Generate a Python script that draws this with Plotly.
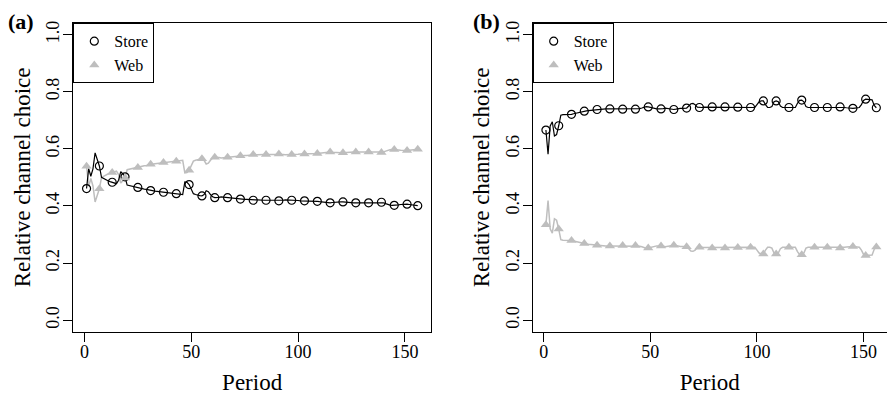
import plotly.graph_objects as go

periods = list(range(1, 157))

store_a = [
    0.461, 0.531, 0.504, 0.530, 0.586, 0.565, 0.540, 0.500, 0.495, 0.491,
    0.488, 0.485, 0.483, 0.482, 0.478, 0.490, 0.520, 0.512, 0.502, 0.473,
    0.471, 0.469, 0.468, 0.467, 0.465, 0.463, 0.461, 0.459, 0.458, 0.456,
    0.454, 0.453, 0.452, 0.451, 0.450, 0.449, 0.448, 0.447, 0.446, 0.445,
    0.445, 0.444, 0.443, 0.442, 0.441, 0.440, 0.484, 0.483, 0.475, 0.460,
    0.443, 0.440, 0.437, 0.436, 0.435, 0.440, 0.453, 0.450, 0.440, 0.432,
    0.429, 0.429, 0.430, 0.432, 0.431, 0.430, 0.429, 0.428, 0.427, 0.426,
    0.427, 0.425, 0.424, 0.424, 0.423, 0.423, 0.422, 0.421, 0.420, 0.421,
    0.421, 0.420, 0.420, 0.420, 0.420, 0.420, 0.419, 0.419, 0.419, 0.418,
    0.418, 0.419, 0.420, 0.421, 0.421, 0.420, 0.420, 0.420, 0.419, 0.419,
    0.418, 0.418, 0.418, 0.418, 0.417, 0.417, 0.416, 0.416, 0.416, 0.415,
    0.414, 0.414, 0.413, 0.412, 0.411, 0.412, 0.413, 0.414, 0.414, 0.414,
    0.414, 0.413, 0.412, 0.412, 0.411, 0.411, 0.411, 0.411, 0.411, 0.411,
    0.411, 0.411, 0.411, 0.412, 0.413, 0.413, 0.413, 0.413, 0.413, 0.411,
    0.408, 0.405, 0.403, 0.402, 0.402, 0.403, 0.404, 0.405, 0.406, 0.406,
    0.406, 0.405, 0.404, 0.403, 0.402, 0.401,
]

web_a = [
    0.539, 0.469, 0.496, 0.470, 0.414, 0.435, 0.460, 0.500, 0.505, 0.509,
    0.512, 0.515, 0.517, 0.518, 0.522, 0.510, 0.480, 0.488, 0.498, 0.527,
    0.529, 0.531, 0.532, 0.533, 0.535, 0.537, 0.539, 0.541, 0.542, 0.544,
    0.546, 0.547, 0.548, 0.549, 0.550, 0.551, 0.552, 0.553, 0.554, 0.555,
    0.555, 0.556, 0.557, 0.558, 0.559, 0.560, 0.516, 0.517, 0.525, 0.540,
    0.557, 0.560, 0.563, 0.564, 0.565, 0.560, 0.547, 0.550, 0.560, 0.568,
    0.571, 0.571, 0.570, 0.568, 0.569, 0.570, 0.571, 0.572, 0.573, 0.574,
    0.573, 0.575, 0.576, 0.576, 0.577, 0.577, 0.578, 0.579, 0.580, 0.579,
    0.579, 0.580, 0.580, 0.580, 0.580, 0.580, 0.581, 0.581, 0.581, 0.582,
    0.582, 0.581, 0.580, 0.579, 0.579, 0.580, 0.580, 0.580, 0.581, 0.581,
    0.582, 0.582, 0.582, 0.582, 0.583, 0.583, 0.584, 0.584, 0.584, 0.585,
    0.586, 0.586, 0.587, 0.588, 0.589, 0.588, 0.587, 0.586, 0.586, 0.586,
    0.586, 0.587, 0.588, 0.588, 0.589, 0.589, 0.589, 0.589, 0.589, 0.589,
    0.589, 0.589, 0.589, 0.588, 0.587, 0.587, 0.587, 0.587, 0.587, 0.589,
    0.592, 0.595, 0.597, 0.598, 0.598, 0.597, 0.596, 0.595, 0.594, 0.594,
    0.594, 0.595, 0.596, 0.597, 0.598, 0.599,
]

store_b = [
    0.666, 0.581, 0.680, 0.695, 0.645, 0.650, 0.681, 0.718, 0.720, 0.720,
    0.720, 0.720, 0.721, 0.723, 0.725, 0.727, 0.729, 0.731, 0.732, 0.733,
    0.734, 0.735, 0.736, 0.737, 0.738, 0.739, 0.739, 0.740, 0.740, 0.740,
    0.740, 0.740, 0.740, 0.739, 0.739, 0.739, 0.739, 0.739, 0.739, 0.739,
    0.739, 0.739, 0.739, 0.740, 0.741, 0.743, 0.746, 0.748, 0.747, 0.745,
    0.743, 0.741, 0.740, 0.740, 0.740, 0.741, 0.743, 0.742, 0.739, 0.738,
    0.738, 0.739, 0.741, 0.742, 0.742, 0.743, 0.743, 0.750, 0.758, 0.759,
    0.755, 0.746, 0.745, 0.745, 0.746, 0.746, 0.747, 0.747, 0.747, 0.747,
    0.747, 0.747, 0.747, 0.747, 0.747, 0.747, 0.747, 0.746, 0.746, 0.746,
    0.746, 0.746, 0.745, 0.745, 0.745, 0.745, 0.745, 0.745, 0.745, 0.755,
    0.765, 0.768, 0.768, 0.755, 0.745, 0.745, 0.748, 0.765, 0.768, 0.765,
    0.750, 0.745, 0.745, 0.745, 0.745, 0.745, 0.745, 0.745, 0.760, 0.770,
    0.771, 0.765, 0.748, 0.745, 0.745, 0.745, 0.745, 0.745, 0.745, 0.745,
    0.745, 0.745, 0.745, 0.745, 0.745, 0.745, 0.745, 0.745, 0.747, 0.746,
    0.745, 0.744, 0.743, 0.742, 0.742, 0.743, 0.744, 0.745, 0.755, 0.770,
    0.774, 0.774, 0.773, 0.772, 0.752, 0.744,
]

web_b = [
    0.334, 0.419, 0.320, 0.305, 0.355, 0.350, 0.319, 0.282, 0.280, 0.280,
    0.280, 0.280, 0.279, 0.277, 0.275, 0.273, 0.271, 0.269, 0.268, 0.267,
    0.266, 0.265, 0.264, 0.263, 0.262, 0.261, 0.261, 0.260, 0.260, 0.260,
    0.260, 0.260, 0.260, 0.261, 0.261, 0.261, 0.261, 0.261, 0.261, 0.261,
    0.261, 0.261, 0.261, 0.260, 0.259, 0.257, 0.254, 0.252, 0.253, 0.255,
    0.257, 0.259, 0.260, 0.260, 0.260, 0.259, 0.257, 0.258, 0.261, 0.262,
    0.262, 0.261, 0.259, 0.258, 0.258, 0.257, 0.257, 0.250, 0.242, 0.241,
    0.245, 0.254, 0.255, 0.255, 0.254, 0.254, 0.253, 0.253, 0.253, 0.253,
    0.253, 0.253, 0.253, 0.253, 0.253, 0.253, 0.253, 0.254, 0.254, 0.254,
    0.254, 0.254, 0.255, 0.255, 0.255, 0.255, 0.255, 0.255, 0.255, 0.245,
    0.235, 0.232, 0.232, 0.245, 0.255, 0.255, 0.252, 0.235, 0.232, 0.235,
    0.250, 0.255, 0.255, 0.255, 0.255, 0.255, 0.255, 0.255, 0.240, 0.230,
    0.229, 0.235, 0.252, 0.255, 0.255, 0.255, 0.255, 0.255, 0.255, 0.255,
    0.255, 0.255, 0.255, 0.255, 0.255, 0.255, 0.255, 0.255, 0.253, 0.254,
    0.255, 0.256, 0.257, 0.258, 0.258, 0.257, 0.256, 0.255, 0.245, 0.230,
    0.226, 0.226, 0.227, 0.228, 0.248, 0.256,
]

x_ticks = [0, 50, 100, 150]
y_ticks = [0.0, 0.2, 0.4, 0.6, 0.8, 1.0]
series_names = ["Store", "Web"]
panel_labels = ["(a)", "(b)"]

FONT = "Liberation Serif"
BLACK = "#000000"
GRAY = "#BEBEBE"

# marker every 6th period plus the last one
mk_idx = list(range(0, len(periods), 6))
if mk_idx[-1] != len(periods) - 1:
    mk_idx.append(len(periods) - 1)

fig = go.Figure()

panels = [
    (store_a, web_a, "x", "y", "legend"),
    (store_b, web_b, "x2", "y2", "legend2"),
]

for store, web, xa, ya, lg in panels:
    fig.add_trace(go.Scatter(x=periods, y=web, mode="lines", xaxis=xa, yaxis=ya,
                             line=dict(color=GRAY, width=1.5), showlegend=False,
                             hoverinfo="skip"))
    fig.add_trace(go.Scatter(x=periods, y=store, mode="lines", xaxis=xa, yaxis=ya,
                             line=dict(color=BLACK, width=1.2), showlegend=False,
                             hoverinfo="skip"))
    fig.add_trace(go.Scatter(x=[periods[i] for i in mk_idx], y=[store[i] for i in mk_idx],
                             mode="markers", xaxis=xa, yaxis=ya, name=series_names[0],
                             legend=lg,
                             marker=dict(symbol="circle-open", size=8, color=BLACK,
                                         line=dict(width=1.2, color=BLACK))))
    fig.add_trace(go.Scatter(x=[periods[i] for i in mk_idx], y=[web[i] for i in mk_idx],
                             mode="markers", xaxis=xa, yaxis=ya, name=series_names[1],
                             legend=lg,
                             marker=dict(symbol="triangle-up", size=9, color=GRAY,
                                         line=dict(width=0))))

W, H = 887, 395
y_dom = [(H - 331.5) / H, (H - 23.3) / H]
xa_dom = [73.3 / W, 431.0 / W]
xb_dom = [532.7 / W, 1.0]

axis_common = dict(showline=True, linecolor=BLACK, linewidth=1, mirror=True,
                   ticks="outside", ticklen=9, tickcolor=BLACK, tickwidth=1,
                   showgrid=False, zeroline=False, automargin=False,
                   tickfont=dict(family=FONT, size=18, color=BLACK))

xaxis_common = dict(axis_common, tickvals=x_ticks, ticktext=[str(v) for v in x_ticks],
                    ticklabelstandoff=-5,
                    title=dict(text="Period", font=dict(family=FONT, size=23, color=BLACK),
                               standoff=19))
yaxis_common = dict(axis_common, tickvals=y_ticks, ticktext=[f"{v:.1f}" for v in y_ticks],
                    tickangle=-90, range=[-0.04, 1.04], ticklabelstandoff=-3,
                    title=dict(text="Relative channel choice",
                               font=dict(family=FONT, size=23, color=BLACK), standoff=6))

legend_common = dict(xanchor="left", yanchor="top", y=y_dom[1],
                     bordercolor=BLACK, borderwidth=1, bgcolor="white",
                     font=dict(family=FONT, size=16, color=BLACK),
                     tracegroupgap=0, itemwidth=30)

fig.update_layout(
    template="none",
    width=W, height=H,
    margin=dict(l=0, r=0, t=0, b=0, pad=0),
    paper_bgcolor="white", plot_bgcolor="white",
    font=dict(family=FONT, color=BLACK),
    xaxis=dict(xaxis_common, domain=xa_dom, range=[-5.2, 162.2], anchor="y"),
    yaxis=dict(yaxis_common, domain=y_dom, anchor="x"),
    xaxis2=dict(xaxis_common, domain=xb_dom, range=[-5.2, 161.0], anchor="y2"),
    yaxis2=dict(yaxis_common, domain=y_dom, anchor="x2"),
    legend=dict(legend_common, x=xa_dom[0]),
    legend2=dict(legend_common, x=xb_dom[0]),
    showlegend=True,
    annotations=[
        dict(text=f"<b>{panel_labels[0]}</b>", x=21 / W, y=(H - 22) / H, xref="paper",
             yref="paper", xanchor="center", yanchor="middle", showarrow=False,
             font=dict(family=FONT, size=22, color=BLACK)),
        dict(text=f"<b>{panel_labels[1]}</b>", x=487 / W, y=(H - 22) / H, xref="paper",
             yref="paper", xanchor="center", yanchor="middle", showarrow=False,
             font=dict(family=FONT, size=22, color=BLACK)),
    ],
)

fig.write_html("out.html",
               config={"displayModeBar": False},
               post_script="document.body.style.margin='0';document.body.style.overflow='hidden';")
